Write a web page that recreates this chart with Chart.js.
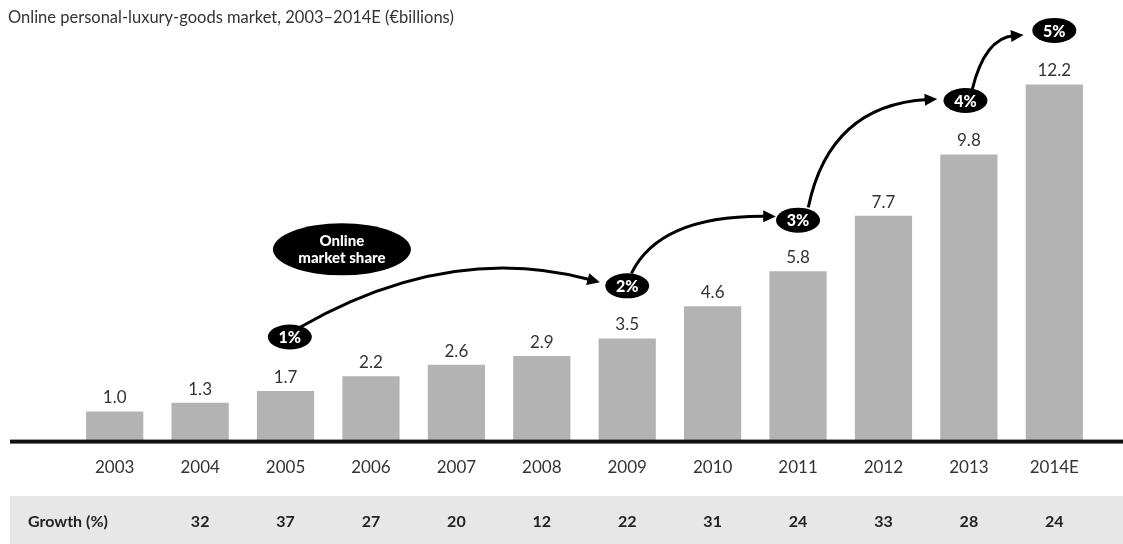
<!DOCTYPE html>
<html>
<head>
<meta charset="utf-8">
<script src="https://cdn.jsdelivr.net/npm/chart.js@4.4.1/dist/chart.umd.min.js"></script>
<style>
  html, body { margin: 0; padding: 0; background: #fff; }
  #wrap { width: 1123px; height: 544px; }
</style>
</head>
<body>
<div id="wrap"><canvas id="myChart" width="1123" height="544"></canvas></div>
<script>
// data
const years = ["2003", "2004", "2005", "2006", "2007", "2008", "2009", "2010", "2011", "2012", "2013", "2014E"];
const marketValues = [1.0, 1.3, 1.7, 2.2, 2.6, 2.9, 3.5, 4.6, 5.8, 7.7, 9.8, 12.2];
const growthYears = ["2004", "2005", "2006", "2007", "2008", "2009", "2010", "2011", "2012", "2013", "2014E"];
const growthPct = [32, 37, 27, 20, 12, 22, 31, 24, 33, 28, 24];
const shareYears = ["2005", "2009", "2011", "2013", "2014E"];
const shareLabels = ["1%", "2%", "3%", "4%", "5%"];

const TITLE = "Online personal-luxury-goods market, 2003\u20132014E (\u20acbillions)";
const FONT = "Lato, 'Open Sans', sans-serif";

// where the share bubbles sit (category index offset, value units)
var bubbleSpots = [
    { dx: 0.05, v: 3.55 },
    { dx: 0.0, v: 5.3 },
    { dx: 0.0, v: 7.55 },
    { dx: -0.04, v: 11.65 },
    { dx: 0.0, v: 14.05 }
];
// quadratic arrows between bubbles, in (index, value) units
var arrows = [
    [[2.17, 3.88], [3.92, 6.81], [5.68, 5.42]],
    [[6.05, 5.73], [6.38, 7.72], [7.74, 7.68]],
    [[8.12, 7.99], [8.37, 11.49], [9.63, 11.70]],
    [[10.04, 12.04], [10.19, 13.79], [10.64, 13.89]]
];

function ellipse(ctx, cx, cy, rx, ry) {
    ctx.beginPath();
    ctx.ellipse(cx, cy, rx, ry, 0, 0, Math.PI * 2);
    ctx.fillStyle = "#000";
    ctx.fill();
}

const extras = {
    id: "extras",
    afterDraw(chart) {
        var ctx = chart.ctx;
        var xs = chart.scales.x, ys = chart.scales.y;
        var px = function (i) { return xs.getPixelForValue(i); };
        var py = function (v) { return ys.getPixelForValue(v); };
        var base = py(0);
        ctx.save();

        // title
        ctx.fillStyle = "#333";
        ctx.font = "16.5px " + FONT;
        ctx.textAlign = "left";
        ctx.textBaseline = "middle";
        ctx.fillText(TITLE, 8, 18);

        // axis line
        ctx.fillStyle = "#111";
        ctx.fillRect(10, base - 1, chart.width - 10, 4);

        // value labels
        ctx.fillStyle = "#333";
        ctx.font = "17px " + FONT;
        ctx.textAlign = "center";
        ctx.textBaseline = "bottom";
        marketValues.forEach(function (v, i) {
            ctx.fillText(v.toFixed(1), px(i), py(v) - 5);
        });

        // growth band
        ctx.fillStyle = "#e7e7e7";
        ctx.fillRect(10, 496, chart.width - 10, chart.height - 496);
        ctx.fillStyle = "#222";
        ctx.font = "bold 16px " + FONT;
        ctx.textBaseline = "middle";
        ctx.textAlign = "left";
        ctx.fillText("Growth (%)", 28, 522);
        ctx.textAlign = "center";
        growthPct.forEach(function (g, k) {
            ctx.fillText(String(g), px(years.indexOf(growthYears[k])), 522);
        });

        // arrows
        ctx.strokeStyle = "#000";
        ctx.fillStyle = "#000";
        ctx.lineWidth = 3;
        arrows.forEach(function (a) {
            var p0 = [px(a[0][0]), py(a[0][1])];
            var p1 = [px(a[1][0]), py(a[1][1])];
            var p2 = [px(a[2][0]), py(a[2][1])];
            var ang = Math.atan2(p2[1] - p1[1], p2[0] - p1[0]);
            var len = 14;
            var ex = p2[0] - Math.cos(ang) * len * 0.7, ey = p2[1] - Math.sin(ang) * len * 0.7;
            ctx.beginPath();
            ctx.moveTo(p0[0], p0[1]);
            ctx.quadraticCurveTo(p1[0], p1[1], ex, ey);
            ctx.stroke();
            ctx.beginPath();
            ctx.moveTo(p2[0], p2[1]);
            ctx.lineTo(p2[0] - Math.cos(ang - 0.45) * len, p2[1] - Math.sin(ang - 0.45) * len);
            ctx.lineTo(p2[0] - Math.cos(ang + 0.45) * len, p2[1] - Math.sin(ang + 0.45) * len);
            ctx.closePath();
            ctx.fill();
        });

        // share bubbles
        ctx.textAlign = "center";
        ctx.textBaseline = "middle";
        shareLabels.forEach(function (s, k) {
            var spot = bubbleSpots[k];
            var cx = px(years.indexOf(shareYears[k]) + spot.dx);
            var cy = py(spot.v);
            ellipse(ctx, cx, cy, 22, 12.5);
            ctx.fillStyle = "#fff";
            ctx.font = "900 16px " + FONT;
            ctx.fillText(s, cx, cy + 1);
        });

        // "Online market share" bubble
        var mx = px(2.66), my = py(6.55);
        ellipse(ctx, mx, my, 69, 26);
        ctx.fillStyle = "#fff";
        ctx.font = "900 15px " + FONT;
        ctx.fillText("Online", mx, my - 8);
        ctx.fillText("market share", mx, my + 9);

        ctx.restore();
    }
};

var ctx = document.getElementById("myChart");
var myChart = new Chart(ctx, {
    type: "bar",
    data: {
        labels: years,
        datasets: [{
            data: marketValues,
            backgroundColor: "#b3b3b3",
            barPercentage: 0.67,
            categoryPercentage: 1.0
        }]
    },
    options: {
        responsive: false,
        animation: false,
        devicePixelRatio: 1,
        layout: { padding: { top: 45, left: 72, right: 26, bottom: 49 } },
        plugins: {
            legend: { display: false },
            tooltip: { enabled: false },
            title: { display: false }
        },
        scales: {
            x: {
                grid: { display: false, drawTicks: false },
                border: { display: false },
                ticks: {
                    color: "#333",
                    font: { family: FONT, size: 17 },
                    padding: 17,
                    maxRotation: 0,
                    autoSkip: false
                }
            },
            y: {
                display: false,
                min: 0,
                max: 13.55
            }
        }
    },
    plugins: [extras]
});
</script>
</body>
</html>
